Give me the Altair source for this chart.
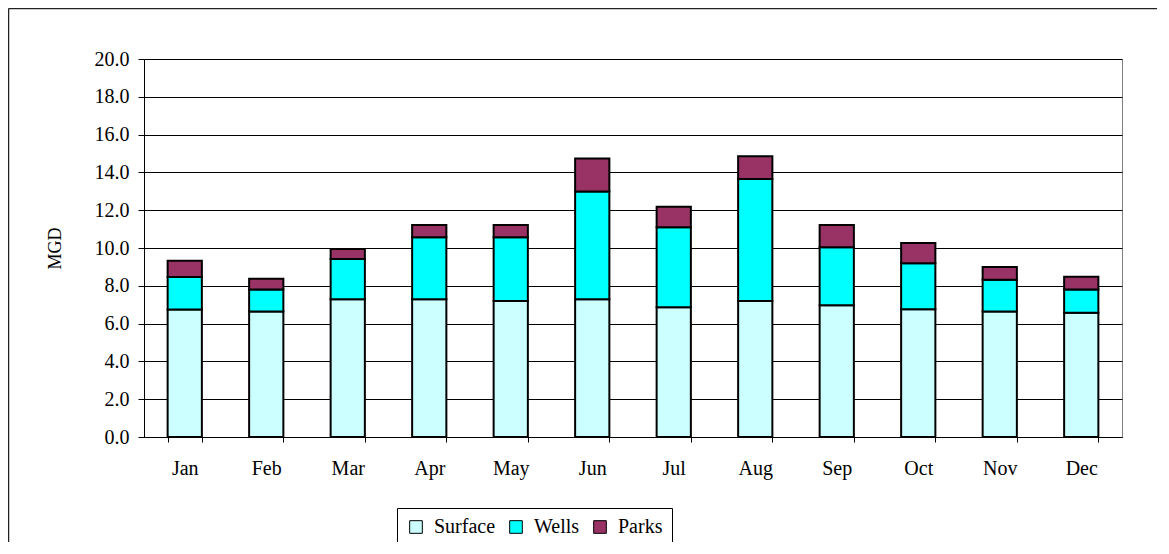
import altair as alt
import pandas as pd

months = ["Jan", "Feb", "Mar", "Apr", "May", "Jun", "Jul", "Aug", "Sep", "Oct", "Nov", "Dec"]
series = ["Surface", "Wells", "Parks"]
surface = [6.74, 6.64, 7.29, 7.29, 7.19, 7.29, 6.87, 7.19, 6.97, 6.76, 6.64, 6.57]
wells = [1.72, 1.17, 2.13, 3.28, 3.38, 5.70, 4.23, 6.46, 3.07, 2.43, 1.68, 1.24]
parks = [0.87, 0.56, 0.53, 0.65, 0.65, 1.74, 1.08, 1.20, 1.18, 1.08, 0.67, 0.67]
colors = ["#CCFFFF", "#00FFFF", "#993366"]
y_ticks = [0, 2, 4, 6, 8, 10, 12, 14, 16, 18, 20]

rows = []
for i, m in enumerate(months):
    for k, (name, vals) in enumerate(zip(series, [surface, wells, parks])):
        rows.append({"Month": m, "Source": name, "MGD": vals[i], "k": k})
df = pd.DataFrame(rows)

W, H = 978, 378
FONT = "'Liberation Serif', 'Times New Roman', serif"

bars = alt.Chart(df).mark_bar(stroke="black", strokeWidth=2).encode(
    x=alt.X("Month:N", sort=months,
            scale=alt.Scale(paddingInner=0.58, paddingOuter=0.29),
            axis=alt.Axis(title=None, labelAngle=0, tickBand="extent",
                          labelPadding=16, tickSize=5, labelBaseline="top",
                          domainColor="black", tickColor="black",
                          labelColor="black", labelFontSize=20)),
    y=alt.Y("MGD:Q", stack="zero",
            scale=alt.Scale(domain=[0, 20], nice=False),
            axis=alt.Axis(title="MGD", values=y_ticks, format=".1f",
                          tickSize=6, labelPadding=9, labelFontSize=20,
                          labelColor="black", domainColor="black",
                          tickColor="black", gridColor="black", gridWidth=1,
                          titleFontSize=18, titleFontWeight="normal",
                          titleColor="black", titleX=-89, titleY=H / 2,
                          titleAngle=-90, titleBaseline="middle", titleAlign="center")),
    color=alt.Color("Source:N", sort=series,
                    scale=alt.Scale(domain=series, range=colors),
                    legend=alt.Legend(title=None, orient="none", direction="horizontal",
                                      legendX=253, legendY=449,
                                      symbolType="square", symbolSize=160,
                                      symbolStrokeColor="black", symbolStrokeWidth=1,
                                      symbolOpacity=1,
                                      labelFontSize=20, labelColor="black",
                                      labelOffset=8, columnPadding=10,
                                      padding=9, strokeColor="black",
                                      fillColor="white")),
    order=alt.Order("k:Q"),
)

one = pd.DataFrame({"a": [0]})
border_top = alt.Chart(one).mark_rule(color="#222", strokeWidth=1.5).encode(
    x=alt.value(-135.5), x2=alt.value(1200), y=alt.value(-50.5))
border_left = alt.Chart(one).mark_rule(color="#222", strokeWidth=1.5).encode(
    x=alt.value(-135.5), y=alt.value(-50.5), y2=alt.value(700))

chart = alt.layer(bars, border_top, border_left).properties(
    width=W, height=H,
    autosize=alt.AutoSizeParams(type="none"),
    padding={"left": 136, "top": 51, "right": 35, "bottom": 105},
).configure(font=FONT).configure_view(
    stroke="#808080", strokeWidth=1
).configure_axis(
    labelFont=FONT, titleFont=FONT
).configure_legend(
    labelFont=FONT, titleFont=FONT
)

chart.save("out.html", embed_options={"renderer": "svg", "actions": False})
